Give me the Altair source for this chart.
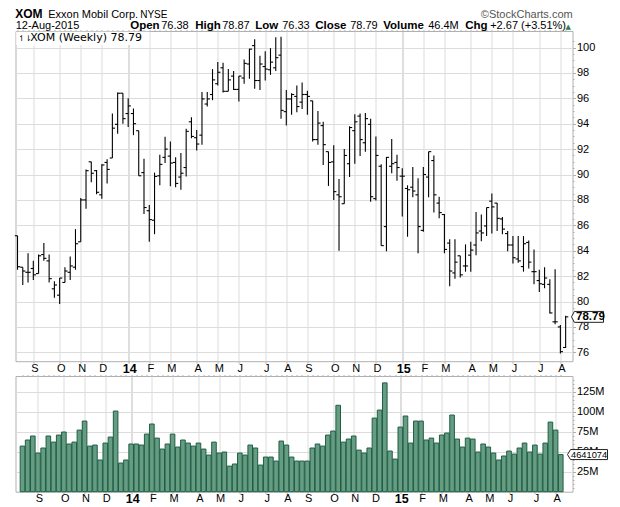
import json
import altair as alt
import pandas as pd

highs = [85.18,82.7,83.8,83.2,83.7,84.6,83.7,81.6,81.85,82.7,83.55,85.7,88.15,90.4,91.0,90.35,90.8,91.2,94.8,96.45,96.4,96.0,95.2,93.45,91.25,87.6,90.15,91.56,92.97,92.6,91.35,91.7,93.6,94.5,93.5,96.5,96.5,98.3,98.85,98.8,98.3,98.15,97.75,99.05,99.9,100.65,99.35,99.7,99.95,100.8,100.85,96.65,96.4,97.0,97.25,96.6,95.8,95.0,94.15,91.8,92.3,89.65,92.0,93.8,94.75,94.8,94.85,94.4,93.0,90.8,91.37,92.8,91.55,90.5,89.15,90.6,89.7,90.6,91.8,91.5,88.25,86.9,84.9,84.9,83.6,84.5,84.7,87.05,86.85,87.4,88.5,87.75,86.65,85.55,85.15,85.15,85.15,84.8,84.1,82.5,82.7,81.75,82.55,78.15,78.87]
lows = [82.5,81.3,81.5,81.7,82.2,83.2,81.5,80.3,79.8,81.5,81.7,82.5,84.7,87.3,89.4,88.45,88.1,89.3,91.3,93.2,94.0,93.75,93.1,89.9,86.9,84.7,85.3,89.15,90.9,89.07,89.0,88.8,89.85,92.85,91.9,92.35,95.35,95.85,97.0,96.45,96.55,96.65,95.75,97.15,97.55,96.75,96.65,97.4,97.85,98.15,94.4,93.85,94.7,94.9,95.15,94.7,92.6,92.35,90.75,89.1,88.0,84.0,87.7,89.8,90.85,91.45,91.8,87.85,87.95,84.4,83.95,90.1,89.5,86.7,85.1,88.2,83.8,85.5,88.2,87.0,86.55,83.8,81.2,81.8,81.9,82.35,82.35,83.65,84.75,85.15,85.35,85.55,85.3,83.95,83.0,83.05,82.35,82.6,81.35,80.75,81.05,79.05,78.2,75.9,76.33]
opens = [85.18,82.7,82.3,82.6,82.2,83.7,83.2,81.0,80.5,81.5,82.3,82.7,84.7,88.0,91.0,90.3,88.4,90.95,91.3,93.95,96.4,94.8,94.8,93.45,90.15,87.15,86.4,89.9,91.35,91.45,90.95,89.8,90.55,94.15,92.9,93.1,95.55,96.3,97.15,98.4,96.55,97.75,96.7,97.6,98.7,100.15,97.4,98.5,98.25,98.4,99.4,94.95,95.95,96.15,95.7,96.3,95.8,92.75,93.85,91.8,91.0,88.4,87.7,90.85,93.45,94.6,92.5,93.95,88.1,90.65,85.9,90.65,90.95,89.87,88.9,89.0,88.4,85.6,89.8,91.1,87.75,86.85,84.6,82.25,83.6,82.8,83.65,84.45,85.55,85.95,87.9,87.75,86.5,85.35,84.45,83.35,82.75,84.65,82.35,81.65,81.35,81.35,78.4,78.0,76.38]
closes = [82.74,82.4,82.3,82.1,83.6,83.4,81.8,81.3,81.85,82.4,82.8,84.55,88.0,90.3,90.1,88.6,90.75,90.4,93.65,96.4,94.4,95.4,94.0,89.9,87.4,86.45,89.85,90.8,92.0,90.9,89.3,90.1,93.4,93.0,92.4,95.95,95.95,97.45,98.05,96.55,97.45,96.7,97.75,98.75,99.87,97.4,98.7,98.3,98.85,99.2,95.05,95.95,96.3,95.35,96.3,96.15,92.75,94.05,92.35,90.95,88.65,88.25,91.5,93.7,94.15,92.75,94.4,88.25,91.5,84.4,91.35,90.85,90.55,89.87,88.8,88.7,85.9,90.0,91.8,88.4,87.0,84.1,82.4,83.1,82.1,82.8,84.05,85.4,85.4,87.4,87.45,86.55,85.7,84.45,83.45,83.2,84.55,83.1,82.35,81.4,81.85,79.1,78.4,76.05,78.79]
volumes = [57,64.6,69.6,48.3,54.6,69.6,62,70.8,74.6,59.6,62,77,88.3,57,58.3,39.6,60.8,68.3,100.8,35.8,39.6,59.6,59.6,58.3,72,84.6,67,53.3,59.6,72,55.8,64.6,60.8,57,60.8,53.3,45.8,62,48.3,49.6,32,34.6,48.3,45.8,58.3,54.6,33.3,43.3,43.3,38.3,63.3,58.3,43.3,38.3,38.3,38.3,54.6,59.6,57,70.8,75.8,108,62,65.8,69.6,52,48.3,54.6,92,102,136,50.8,40.8,80.8,94.6,60.8,88.3,88.3,64.6,67,60.8,70.8,73.3,95.8,65.8,55.8,67,65.8,49.6,59.6,55.8,48.3,39.6,44.6,50.8,47,54.6,60.8,49.6,58.3,47,60.8,87,77,46.4]
month_weeks = [3,8,12,16,21,25,29,34,38,42,47,51,55,60,64,68,73,77,81,86,90,94,99,103]
month_labels = ["S","O","N","D","14","F","M","A","M","J","J","A","S","O","N","D","15","F","M","A","M","J","J","A"]
price_ticks = [76,78,80,82,84,86,88,90,92,94,96,98,100]
volume_ticks = [25,50,75,100,125]

weeks = list(range(len(highs)))
df = pd.DataFrame({"i": weeks, "h": highs, "l": lows, "o": opens, "c": closes, "v": volumes})
df["il"] = df["i"] - 0.5
df["ir"] = df["i"] + 0.5

PW, PH, VH, GAP = 557, 330.2, 115.7, 14
OX, OY = 16.3, 29.3
GRID = "#dcdcdc"
GRID2 = "#bdbdbd"
FRAME = "#b0b0b0"
FONT = "Liberation Sans"
xdom = alt.Scale(domain=[-0.38, 105.3], nice=False, zero=False)
pdom = alt.Scale(domain=[75.3, 101.3], nice=False, zero=False)
vdom = alt.Scale(domain=[0, 144.6], nice=False, zero=False)
is_year = "datum.value == 21 || datum.value == 73"
lab = json.dumps({str(k): v for k, v in zip(month_weeks, month_labels)})

def x_major():
    return alt.Axis(values=month_weeks, labelExpr=f"{lab}[datum.value]", title=None, domain=False,
                    grid=True, gridColor={"condition": {"test": is_year, "value": GRID2}, "value": GRID},
                    labelFontSize={"condition": {"test": is_year, "value": 12.5}, "value": 11},
                    labelFontWeight={"condition": {"test": is_year, "value": "bold"}, "value": "normal"},
                    tickColor=FRAME, tickSize=2, labelPadding=-1, labelFont=FONT, labelColor="#000000",
                    labelAngle=0, labelOverlap=False, labelFlush=False, labelOffset=1)

def x_minor():
    return alt.Axis(values=weeks, labels=False, title=None, domain=False, grid=False,
                    tickColor=FRAME, tickSize=1.5)

def y_major(values, expr=None):
    kw = {"labelExpr": expr} if expr else {}
    return alt.Axis(orient="right", values=values, title=None, domain=False, grid=True, gridColor=GRID,
                    tickColor=FRAME, tickSize=3, labelPadding=1, labelFont=FONT, labelFontSize=11,
                    labelColor="#000000", labelOverlap=False, labelFlush=False, **kw)

def y_minor(values):
    return alt.Axis(orient="right", values=values, labels=False, title=None, domain=False, grid=False,
                    tickColor=FRAME, tickSize=1.5)

one = pd.DataFrame({"a": [0]})

def note(text, px, py, size=11, weight="normal", color="#000000", font=FONT, align="left"):
    return alt.Chart(one).mark_text(text=text, fontSize=size, fontWeight=weight, color=color, font=font,
                                    align=align, baseline="alphabetic").encode(
        x=alt.value(px - OX), y=alt.value(py - OY))

def axes_layers(ycol, yscale, ymaj, ymin):
    a = alt.Chart(df).mark_rule(opacity=0).encode(
        x=alt.X("i:Q", scale=xdom, axis=x_major()),
        y=alt.Y(f"{ycol}:Q", scale=yscale, axis=ymaj))
    b = alt.Chart(df).mark_rule(opacity=0).encode(
        x=alt.X("i:Q", scale=xdom, axis=x_minor()),
        y=alt.Y(f"{ycol}:Q", scale=yscale, axis=ymin))
    return [a, b]

pminor = [76 + 0.5 * k for k in range(50)]
X = lambda f: alt.X(f"{f}:Q", scale=xdom, axis=None)
PY = lambda f: alt.Y(f"{f}:Q", scale=pdom, axis=None)
BAR = dict(color="#000000", strokeWidth=1.1)

stems = alt.Chart(df).mark_rule(**BAR).encode(x=X("i"), y=PY("h"), y2="l:Q")
open_t = alt.Chart(df).mark_rule(**BAR).encode(x=X("il"), x2="i:Q", y=PY("o"))
close_t = alt.Chart(df).mark_rule(**BAR).encode(x=X("i"), x2="ir:Q", y=PY("c"))

legend_box = alt.Chart(one).mark_rect(color="#ffffff").encode(
    x=alt.value(0.8), x2=alt.value(150 - OX), y=alt.value(0.8), y2=alt.value(14))

last = pd.DataFrame({"i": [105.3], "c": [closes[-1]], "v": [volumes[-1]]})
pr_box = alt.Chart(last).mark_point(
    shape="M-1 0 L-0.82 -0.34 L1 -0.34 L1 0.34 L-0.82 0.34 Z", filled=True, fill="#ffffff",
    stroke="#222222", strokeWidth=1, size=1024, opacity=1, xOffset=15, clip=False
).encode(x=X("i"), y=PY("c"))
pr_txt = alt.Chart(last).mark_text(
    text="78.79", fontWeight="bold", fontSize=11.5, font=FONT, color="#000000", align="left", dx=3.5, dy=0.5
).encode(x=X("i"), y=PY("c"))

price = alt.layer(
    *axes_layers("h", pdom, y_major(price_ticks), y_minor(pminor)),
    legend_box, stems, open_t, close_t, pr_box, pr_txt,
    note("XOM", 16, 16.5, size=12, weight="bold"),
    note("Exxon Mobil Corp.", 49, 16.5, size=11),
    note("NYSE", 141, 16.5, size=10),
    note("©StockCharts.com", 573.5, 16.5, size=11, color="#555555", align="right"),
    note("12-Aug-2015", 16.5, 27.5, size=11),
    note("Open", 131, 27.5, size=11.5, weight="bold"), note("76.38", 162, 27.5),
    note("High", 196, 27.5, size=11.5, weight="bold"), note("78.87", 223, 27.5),
    note("Low", 256, 27.5, size=11.5, weight="bold"), note("76.33", 283, 27.5),
    note("Close", 316, 27.5, size=11.5, weight="bold"), note("78.79", 351, 27.5),
    note("Volume", 384, 27.5, size=11.5, weight="bold"), note("46.4M", 429, 27.5),
    note("Chg", 466, 27.5, size=11.5, weight="bold"), note("+2.67 (+3.51%)", 491, 27.5),
    note("▲", 569, 27.5, size=7, color="#2e7d4f", align="center", font="DejaVu Sans"),
    note("↿⇂", 19, 39, size=8, font="DejaVu Sans"),
    note("XOM (Weekly) 78.79", 31, 39, size=11, font="DejaVu Sans"),
).resolve_axis(x="independent", y="independent").properties(width=PW, height=PH)

vbars = alt.Chart(df).mark_bar(size=4.6, color="#659c82", stroke="#1f5e46", strokeWidth=1).encode(
    x=X("i"), y=alt.Y("v:Q", scale=vdom, axis=None))
v_box = alt.Chart(last).mark_point(
    shape="M-1 0 L-0.85 -0.25 L1 -0.25 L1 0.25 L-0.85 0.25 Z", filled=True, fill="#ffffff",
    stroke="#222222", strokeWidth=1, size=1600, opacity=1, xOffset=20, clip=False
).encode(x=X("i"), y=alt.Y("v:Q", scale=vdom, axis=None))
v_txt = alt.Chart(last).mark_text(
    text="4641074", fontSize=9.3, font=FONT, color="#000000", align="left", dx=3.5, dy=0.5
).encode(x=X("i"), y=alt.Y("v:Q", scale=vdom, axis=None))

vol = alt.layer(
    *axes_layers("v", vdom, y_major(volume_ticks, "datum.value + 'M'"), y_minor([5 * k for k in range(1, 29)])),
    vbars, v_box, v_txt,
).resolve_axis(x="independent", y="independent").properties(width=PW, height=VH)

chart = alt.vconcat(price, vol, spacing=GAP, bounds="flush").properties(
    padding={"left": 5.5, "top": -1, "right": 0, "bottom": 1}
).configure_view(stroke=FRAME, strokeWidth=1)

chart.save("out.html", embed_options={"renderer": "svg", "actions": False})
